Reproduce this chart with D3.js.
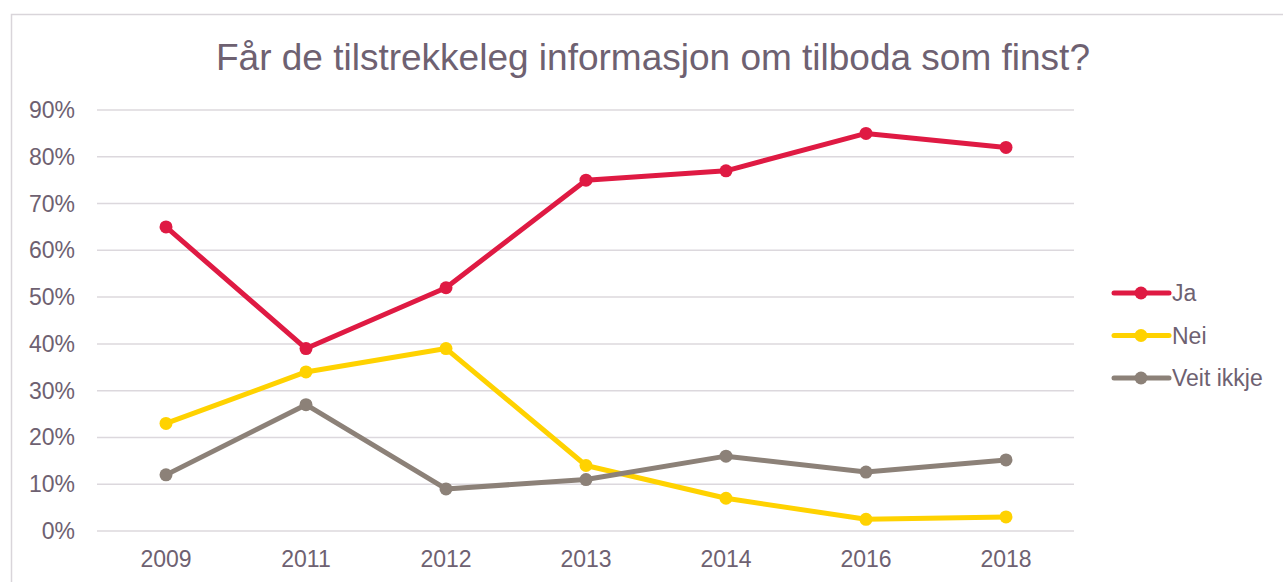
<!DOCTYPE html>
<html>
<head>
<meta charset="utf-8">
<script src="https://cdn.jsdelivr.net/npm/d3@7"></script>
<style>
  body { margin: 0; background: #fff; }
  text { font-family: "Liberation Sans", Arial, sans-serif; fill: #6e6171; }
</style>
</head>
<body>
<script>
var width = 1283, height = 582;

// data
var years = ["2009", "2011", "2012", "2013", "2014", "2016", "2018"];
var ja = [65, 39, 52, 75, 77, 85, 82];
var nei = [23, 34, 39, 14, 7, 2.5, 3];
var veitIkkje = [12, 27, 9, 11, 16, 12.6, 15.2];
var seriesNames = ["Ja", "Nei", "Veit ikkje"];
var seriesColors = ["#df1a43", "#ffd200", "#8c8178"];
var yTicks = [0, 10, 20, 30, 40, 50, 60, 70, 80, 90];

var allSeries = [ja, nei, veitIkkje];

var svg = d3.select("body")
  .append("svg")
  .attr("width", width)
  .attr("height", height);

// chart frame
svg.append("rect")
  .attr("x", 11.5).attr("y", 14.5)
  .attr("width", 1300).attr("height", 600)
  .attr("fill", "none")
  .attr("stroke", "#d9d5da")
  .attr("stroke-width", 1.5);

svg.append("text")
  .attr("x", 653).attr("y", 70)
  .attr("text-anchor", "middle")
  .attr("font-size", 37)
  .text("Får de tilstrekkeleg informasjon om tilboda som finst?");

var x = d3.scalePoint()
  .domain(years)
  .range([96, 1076])
  .padding(0.5);

var y = d3.scaleLinear()
  .domain([0, 90])
  .range([531, 110]);

// gridlines
svg.append("g")
  .selectAll("line")
  .data(yTicks)
  .enter().append("line")
  .attr("x1", 97).attr("x2", 1074)
  .attr("y1", function(d){ return y(d); })
  .attr("y2", function(d){ return y(d); })
  .attr("stroke", "#dcd8dd")
  .attr("stroke-width", 1.5);

// y labels
svg.append("g")
  .selectAll("text")
  .data(yTicks)
  .enter().append("text")
  .attr("x", 75)
  .attr("y", function(d){ return y(d) + 8; })
  .attr("text-anchor", "end")
  .attr("font-size", 23)
  .text(function(d){ return d + "%"; });

// x labels
svg.append("g")
  .selectAll("text")
  .data(years)
  .enter().append("text")
  .attr("x", function(d){ return x(d); })
  .attr("y", 567)
  .attr("text-anchor", "middle")
  .attr("font-size", 23)
  .text(function(d){ return d; });

var line = d3.line()
  .x(function(d, i){ return x(years[i]); })
  .y(function(d){ return y(d); });

allSeries.forEach(function(vals, s){
  var g = svg.append("g");
  g.append("path")
    .attr("d", line(vals))
    .attr("fill", "none")
    .attr("stroke", seriesColors[s])
    .attr("stroke-width", 5)
    .attr("stroke-linejoin", "round");
  g.selectAll("circle")
    .data(vals)
    .enter().append("circle")
    .attr("cx", function(d, i){ return x(years[i]); })
    .attr("cy", function(d){ return y(d); })
    .attr("r", 6.5)
    .attr("fill", seriesColors[s]);
});

// legend
var legend = svg.append("g")
  .selectAll("g")
  .data(seriesNames)
  .enter().append("g")
  .attr("transform", function(d, i){ return "translate(1114," + (293 + i * 42.5) + ")"; });

legend.append("line")
  .attr("x1", 0).attr("x2", 55)
  .attr("stroke", function(d, i){ return seriesColors[i]; })
  .attr("stroke-width", 5)
  .attr("stroke-linecap", "round");
legend.append("circle")
  .attr("cx", 27).attr("r", 6.5)
  .attr("fill", function(d, i){ return seriesColors[i]; });
legend.append("text")
  .attr("x", 58).attr("y", 8)
  .attr("font-size", 23)
  .text(function(d){ return d; });
</script>
</body>
</html>
